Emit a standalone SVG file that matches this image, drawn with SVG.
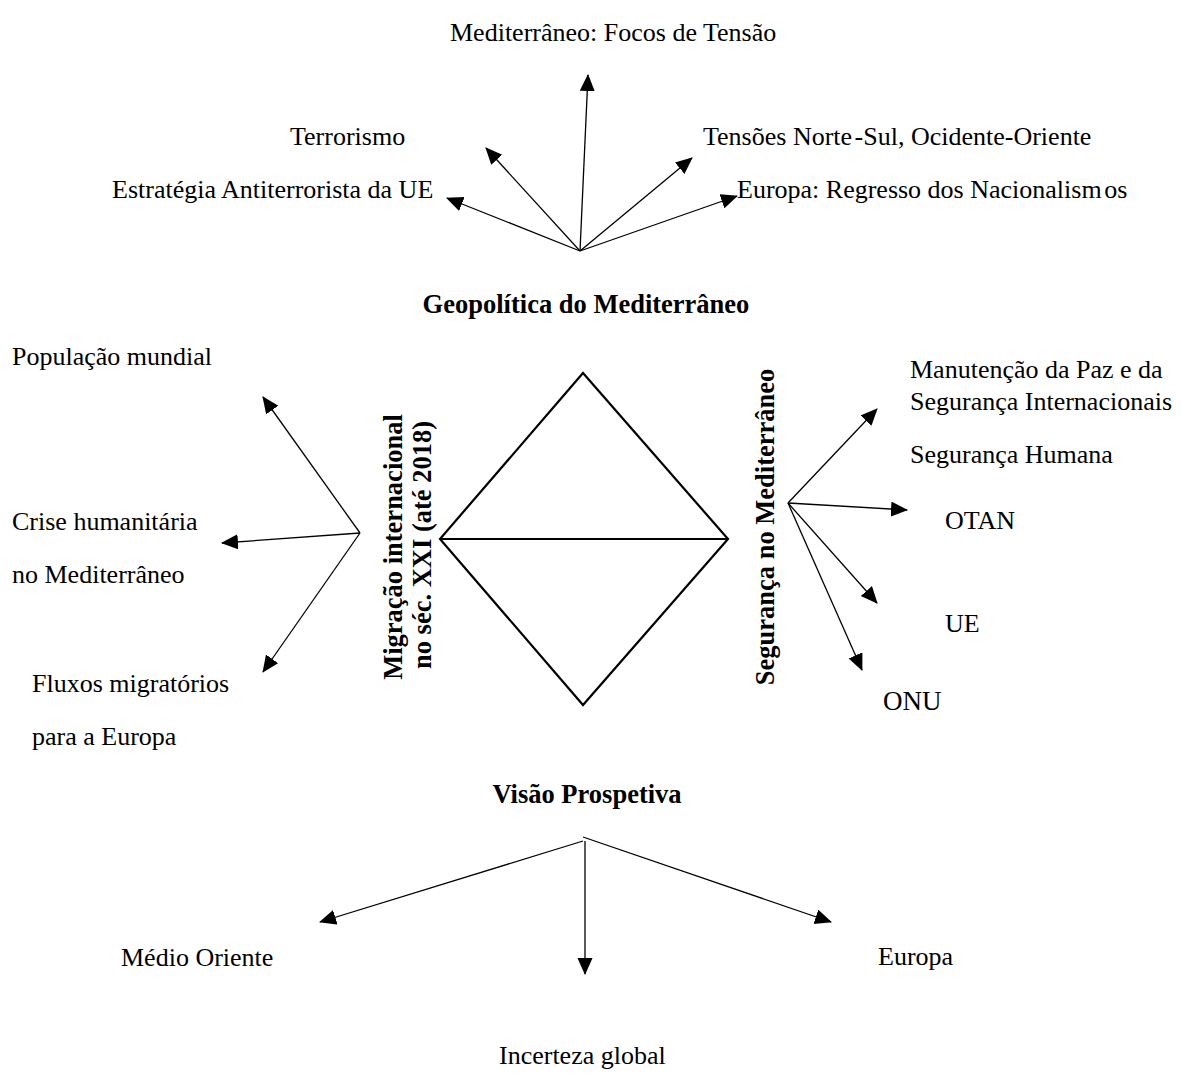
<svg xmlns="http://www.w3.org/2000/svg" width="1182" height="1082" viewBox="0 0 1182 1082">
  <style>
    text { font-family: "Liberation Serif", "Times New Roman", serif; font-size: 26px; fill: #000; }
    .b { font-weight: bold; font-size: 26.5px; }
    .mid { text-anchor: middle; }
    .arrow { stroke: #000; stroke-width: 1.3; fill: none; marker-end: url(#head); }
    .frame { stroke: #000; stroke-width: 2.2; fill: none; stroke-linejoin: miter; }
  </style>
  <defs>
    <marker id="head" markerUnits="userSpaceOnUse" markerWidth="18" markerHeight="16" refX="16" refY="7.5" orient="auto">
      <path d="M0,0 L17,7.5 L0,15 z" fill="#000"/>
    </marker>
  </defs>
  <rect width="1182" height="1082" fill="#fff"/>

  <!-- central diamond split by a horizontal line -->
  <g id="diamond">
    <polygon class="frame" points="583,373 728,539 583,705 440,539"/>
    <line class="frame" x1="440" y1="539" x2="728" y2="539"/>
  </g>

  <!-- section headings -->
  <g id="geopolitica"><text class="b mid" x="586" y="313">Geopolítica do Mediterrâneo</text></g>
  <g id="visao"><text class="b mid" x="587" y="803">Visão Prospetiva</text></g>
  <g id="migracao">
    <text class="b mid" transform="translate(402,547) rotate(-90)">Migração internacional</text>
    <text class="b mid" transform="translate(431,545) rotate(-90)">no séc. XXI (até 2018)</text>
  </g>
  <g id="seguranca"><text class="b mid" transform="translate(774,527) rotate(-90)">Segurança no Mediterrâneo</text></g>

  <!-- upper fan -->
  <g id="focos"><text x="450" y="41">Mediterrâneo: Focos de Tensão</text></g>
  <g id="terrorismo"><text x="290" y="145">Terrorismo</text></g>
  <g id="estrategia"><text x="112" y="198">Estratégia Antiterrorista da UE</text></g>
  <g id="tensoes"><text x="703" y="145">Tensões Norte<tspan dx="2.5">-Sul,</tspan> Ocidente-Oriente</text></g>
  <g id="nacionalismos"><text x="737" y="198">Europa: Regresso dos Nacionalism<tspan dx="2.5">os</tspan></text></g>

  <!-- left fan -->
  <g id="populacao"><text x="12" y="365">População mundial</text></g>
  <g id="crise">
    <text x="12" y="530">Crise humanitária</text>
    <text x="12" y="583">no Mediterrâneo</text>
  </g>
  <g id="fluxos">
    <text x="32" y="692">Fluxos migratórios</text>
    <text x="32" y="745">para a Europa</text>
  </g>

  <!-- right fan -->
  <g id="manutencao">
    <text x="910" y="378">Manutenção da Paz e da</text>
    <text x="910" y="410">Segurança Internacionais</text>
  </g>
  <g id="humana"><text x="910" y="463">Segurança Humana</text></g>
  <g id="otan"><text x="945" y="529">OTAN</text></g>
  <g id="ue"><text x="945" y="632">UE</text></g>
  <g id="onu"><text x="883" y="710" style="font-size:27px">ONU</text></g>

  <!-- lower fan -->
  <g id="medio-oriente"><text x="121" y="966">Médio Oriente</text></g>
  <g id="europa"><text x="878" y="965">Europa</text></g>
  <g id="incerteza"><text x="499" y="1064">Incerteza global</text></g>

  <g id="connectors">
    <!-- from Geopolítica do Mediterrâneo -->
    <line class="arrow" x1="580" y1="251" x2="588" y2="75"/>
    <line class="arrow" x1="580" y1="251" x2="486" y2="148"/>
    <line class="arrow" x1="580" y1="251" x2="447" y2="198"/>
    <line class="arrow" x1="580" y1="251" x2="692" y2="158"/>
    <line class="arrow" x1="580" y1="251" x2="737" y2="196"/>
    <!-- from Migração internacional -->
    <line class="arrow" x1="360" y1="533" x2="263" y2="397"/>
    <line class="arrow" x1="360" y1="533" x2="222" y2="543"/>
    <line class="arrow" x1="360" y1="533" x2="263" y2="672"/>
    <!-- from Segurança no Mediterrâneo -->
    <line class="arrow" x1="788" y1="503" x2="877" y2="409"/>
    <line class="arrow" x1="788" y1="503" x2="907" y2="510"/>
    <line class="arrow" x1="788" y1="503" x2="877" y2="603"/>
    <line class="arrow" x1="788" y1="503" x2="862" y2="670"/>
    <!-- from Visão Prospetiva -->
    <line class="arrow" x1="583" y1="841" x2="320" y2="922"/>
    <line class="arrow" x1="585" y1="841" x2="585" y2="974"/>
    <line class="arrow" x1="583" y1="837" x2="831" y2="922"/>
  </g>
</svg>
